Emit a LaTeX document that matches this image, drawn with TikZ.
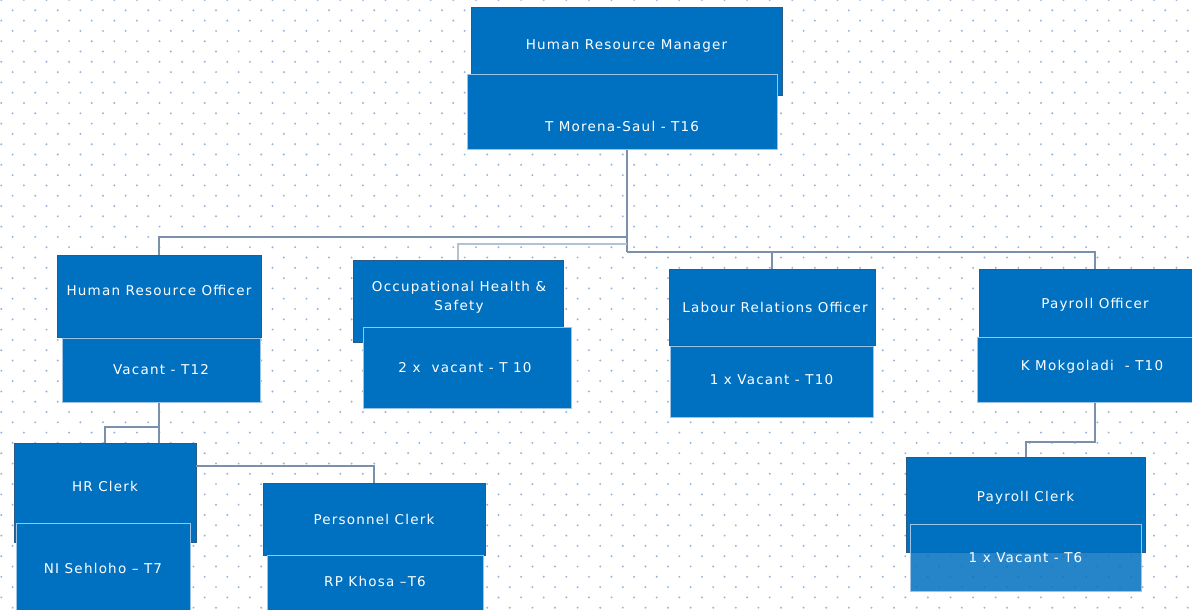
\documentclass[tikz,border=0pt]{standalone}
\usepackage{fontspec}
\newfontfamily\boxfont[LetterSpace=9]{DejaVu Sans}
\definecolor{boxblue}{HTML}{0070C0}
\definecolor{linkgray}{HTML}{7A91AB}
\definecolor{fadegray}{HTML}{B3C2D3}
\definecolor{dotblue}{HTML}{98B6DC}
\definecolor{rimblue}{HTML}{9DC3E6}
\definecolor{shade}{HTML}{2B5A85}

\begin{document}
\begin{tikzpicture}[x=1pt,y=-1pt,
    titlebox/.style={fill=boxblue,draw=shade,line width=0.6pt,inner sep=0pt},
    namebox/.style={fill=boxblue,draw=rimblue,line width=1pt,inner sep=0pt},
    lbl/.style={text=white,font=\boxfont\fontsize{13.5}{19}\selectfont,align=center,inner sep=0pt},
    link/.style={draw=linkgray,line width=2pt}]
  \useasboundingbox (0,0) rectangle (1192,610);
  \clip (0,0) rectangle (1192,610);
  \fill[white] (0,0) rectangle (1192,610);
  % dotted page grid
  \foreach \j in {0,...,59}
    \foreach \i in {0,...,53}
      \fill[dotblue] ({1.3+11.3*mod(\j,2)+22.6*\i},{10.3*\j}) circle (1.1pt);

  % manager
  \node[titlebox,minimum width=311pt,minimum height=88pt] (hrm) at (626.5,51) {};
  \node[namebox,minimum width=310pt,minimum height=74pt] (hrmname) at (622,112) {};
  \node[lbl] (hrmt) at (626.5,46) {Human Resource Manager};
  \node[lbl] (hrmnamet) at (622,126) {T Morena-Saul - T16};

  % officers
  \node[titlebox,minimum width=204pt,minimum height=82pt] (hro) at (159,296) {};
  \node[namebox,minimum width=198pt,minimum height=64pt] (hroname) at (161,370) {};
  \node[lbl] (hrot) at (159,290) {Human Resource Officer};
  \node[lbl] (hronamet) at (161,370) {Vacant - T12};

  \node[titlebox,minimum width=210pt,minimum height=82pt] (ohs) at (458,301) {};
  \node[namebox,minimum width=208pt,minimum height=81pt] (ohsname) at (467,367.5) {};
  \node[lbl] (ohst) at (459,297.5) {Occupational Health \&\\Safety};
  \node[lbl] (ohsnamet) at (465,368) {2 x \ vacant - T 10};

  \node[titlebox,minimum width=206pt,minimum height=76pt] (lro) at (772,307) {};
  \node[namebox,minimum width=203pt,minimum height=71pt] (lroname) at (771.5,381.5) {};
  \node[lbl] (lrot) at (775,307) {Labour Relations Officer};
  \node[lbl] (lronamet) at (771.5,380) {1 x Vacant - T10};

  \node[titlebox,minimum width=232pt,minimum height=71pt] (pay) at (1095,304.5) {};
  \node[namebox,minimum width=230pt,minimum height=65pt] (payname) at (1092,369.5) {};
  \node[lbl] (payt) at (1095,305) {Payroll Officer};
  \node[lbl] (paynamet) at (1092,367) {K Mokgoladi \ - T10};

  % clerks
  \node[titlebox,minimum width=182pt,minimum height=99pt] (hrc) at (105,492.5) {};
  \node[namebox,minimum width=174pt,minimum height=92pt] (hrcname) at (103,569) {};
  \node[lbl] (hrct) at (105,486) {HR Clerk};
  \node[lbl] (hrcnamet) at (103,568) {NI Sehloho – T7};

  \node[titlebox,minimum width=222pt,minimum height=72pt] (pc) at (374,519) {};
  \node[namebox,minimum width=216pt,minimum height=60pt] (pcname) at (375,585) {};
  \node[lbl] (pct) at (374,519) {Personnel Clerk};
  \node[lbl] (pcnamet) at (375,581) {RP Khosa –T6};

  \node[titlebox,minimum width=239pt,minimum height=95pt] (payc) at (1025.5,504.5) {};
  \node[namebox,fill opacity=0.85,minimum width=231pt,minimum height=67pt] (paycname) at (1025.5,557.5) {};
  \node[lbl] (payct) at (1025.5,498) {Payroll Clerk};
  \node[lbl] (paycnamet) at (1025.5,558) {1 x Vacant - T6};

  % reporting lines
  \coordinate (busL) at (626.5,237);
  \coordinate (busM) at (626.5,244);
  \coordinate (busR) at (626.5,252);
  \draw[link] (hrm.center |- hrmname.south) -- (busR);
  \draw[link] (busL) -| (hro.north);
  \draw[link,draw=fadegray,line width=2.5pt] (busM) -| (ohs.north);
  \draw[link] (busR) -| (lro.north);
  \draw[link] (busR) -| (pay.north);

  \coordinate (hrcjoin) at (159,427);
  \draw[link] (hro.center |- hroname.south) -- (hro.center |- hrc.north);
  \draw[link] (hrcjoin) -| (hrc.north);
  \coordinate (pcjoin) at (196,466);
  \draw[link] (pcjoin) -| (pc.north);

  \coordinate (payjoin) at (1095,442);
  \draw[link] (pay.center |- payname.south) -- (payjoin) -| (payc.north);
\end{tikzpicture}
\end{document}
